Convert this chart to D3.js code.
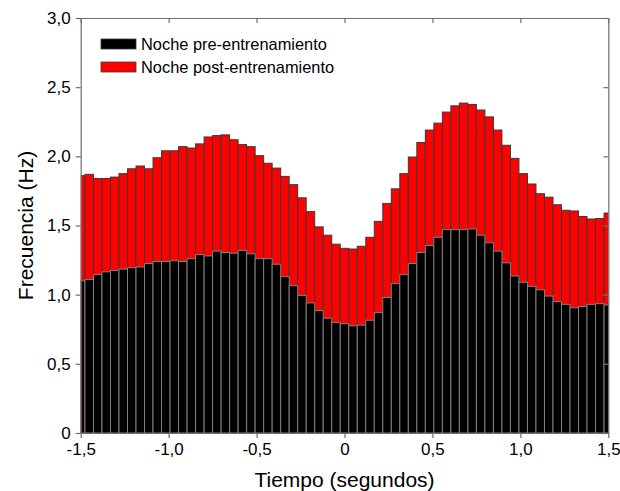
<!DOCTYPE html>
<html>
<head>
<meta charset="utf-8">
<script src="https://cdn.jsdelivr.net/npm/d3@7"></script>
<style>
  html, body { margin: 0; padding: 0; background: #fff; }
  svg { display: block; font-family: Arial, "Liberation Sans", Helvetica, sans-serif; }
</style>
</head>
<body>
<svg id="chart" width="620" height="491"></svg>
<script>
// Spike-rate histogram around the event (63 bins of 3/62 s, first and last half inside the axis)
const binWidth = 3 / 62;
const tiempos = d3.range(63).map(i => -1.5 + i * binWidth);

// Frequency (Hz) per bin
const preEntrenamiento = [
  1.10, 1.11, 1.145, 1.165, 1.175, 1.185, 1.195, 1.20, 1.225, 1.24,
  1.24, 1.245, 1.24, 1.26, 1.29, 1.28, 1.315, 1.305, 1.30, 1.32,
  1.295, 1.26, 1.26, 1.22, 1.13, 1.065, 0.995, 0.94, 0.885, 0.83,
  0.80, 0.79, 0.775, 0.78, 0.815, 0.87, 0.98, 1.08, 1.145, 1.225,
  1.305, 1.355, 1.415, 1.47, 1.47, 1.47, 1.475, 1.43, 1.375, 1.315,
  1.23, 1.135, 1.09, 1.06, 1.035, 0.99, 0.95, 0.93, 0.905, 0.915,
  0.93, 0.935, 0.925
];
const postEntrenamiento = [
  1.86, 1.87, 1.84, 1.84, 1.85, 1.875, 1.91, 1.93, 1.91, 1.99,
  2.04, 2.04, 2.07, 2.06, 2.09, 2.14, 2.15, 2.155, 2.12, 2.085,
  2.07, 2.005, 1.95, 1.915, 1.855, 1.795, 1.70, 1.60, 1.49, 1.43,
  1.365, 1.335, 1.33, 1.35, 1.415, 1.53, 1.66, 1.765, 1.875, 1.995,
  2.10, 2.19, 2.24, 2.32, 2.365, 2.385, 2.375, 2.335, 2.285, 2.19,
  2.08, 1.985, 1.875, 1.80, 1.73, 1.705, 1.65, 1.61, 1.605, 1.565,
  1.547, 1.55, 1.59
];

const xTicks = [-1.5, -1.0, -0.5, 0, 0.5, 1.0, 1.5];
const yTicks = [0, 0.5, 1.0, 1.5, 2.0, 2.5, 3.0];
const seriesNames = ["Noche pre-entrenamiento", "Noche post-entrenamiento"];
const xTitle = "Tiempo (segundos)";
const yTitle = "Frecuencia (Hz)";

const svg = d3.select("#chart");
const m = { left: 80.7, right: 608.3, top: 18, bottom: 433 };

const x = d3.scaleLinear().domain([-1.5, 1.5]).range([m.left, m.right]);
const y = d3.scaleLinear().domain([0, 3]).range([m.bottom, m.top]);
// decimal comma and a plain hyphen for negatives
const fmt = v => (v === 0 ? "0" : (v < 0 ? "-" : "") + Math.abs(v).toFixed(1).replace(".", ","));

svg.append("defs").append("clipPath").attr("id", "plot")
  .append("rect")
  .attr("x", m.left).attr("y", m.top)
  .attr("width", m.right - m.left).attr("height", m.bottom - m.top);

const bw = x(binWidth) - x(0);
const bars = svg.append("g").attr("clip-path", "url(#plot)");

// post-training bars behind, pre-training bars in front
bars.selectAll("rect.post").data(tiempos).join("rect")
  .attr("class", "post")
  .attr("x", (d) => x(d) - bw / 2)
  .attr("width", bw)
  .attr("y", (d, i) => y(postEntrenamiento[i]))
  .attr("height", (d, i) => y(0) - y(postEntrenamiento[i]))
  .attr("fill", "#ff0000")
  .attr("stroke", "#3a3a3a")
  .attr("stroke-width", 1);

bars.selectAll("rect.pre").data(tiempos).join("rect")
  .attr("class", "pre")
  .attr("x", (d) => x(d) - bw / 2)
  .attr("width", bw)
  .attr("y", (d, i) => y(preEntrenamiento[i]))
  .attr("height", (d, i) => y(0) - y(preEntrenamiento[i]))
  .attr("fill", "#000000")
  .attr("stroke", "#808080")
  .attr("stroke-width", 1);

// axes: outward ticks on bottom/left, inward mirrored ticks on top/right
const axisColor = "#6e6e6e";
function styleAxis(g, fontSize) {
  g.select(".domain").attr("stroke", axisColor).attr("stroke-width", 1.2);
  g.selectAll(".tick line").attr("stroke", axisColor).attr("stroke-width", 1.2);
  g.selectAll(".tick text").attr("fill", "#000").attr("font-size", fontSize)
    .attr("font-family", "Arial, 'Liberation Sans', sans-serif");
}

svg.append("g").attr("transform", `translate(0,${m.bottom})`)
  .call(d3.axisBottom(x).tickValues(xTicks).tickFormat(fmt).tickSize(5).tickSizeOuter(0).tickPadding(5))
  .call(g => styleAxis(g, 17));

svg.append("g").attr("transform", `translate(${m.left},0)`)
  .call(d3.axisLeft(y).tickValues(yTicks).tickFormat(fmt).tickSize(5).tickSizeOuter(0).tickPadding(5))
  .call(g => styleAxis(g, 17));

svg.append("g").attr("transform", `translate(0,${m.top})`)
  .call(d3.axisBottom(x).tickValues(xTicks).tickFormat("").tickSize(5).tickSizeOuter(0))
  .call(g => styleAxis(g, 17));

svg.append("g").attr("transform", `translate(${m.right},0)`)
  .call(d3.axisLeft(y).tickValues(yTicks).tickFormat("").tickSize(5).tickSizeOuter(0))
  .call(g => styleAxis(g, 17));

// axis titles
svg.append("text")
  .attr("x", (m.left + m.right) / 2).attr("y", 487)
  .attr("text-anchor", "middle").attr("font-size", 21)
  .text(xTitle);

svg.append("text")
  .attr("transform", `translate(33,${(m.top + m.bottom) / 2}) rotate(-90)`)
  .attr("text-anchor", "middle").attr("font-size", 21)
  .text(yTitle);

// legend
const legendColors = ["#000000", "#ff0000"];
const legend = svg.append("g");
seriesNames.forEach((name, i) => {
  const ly = 44 + i * 23;
  legend.append("rect")
    .attr("x", 101).attr("y", ly - 5).attr("width", 35).attr("height", 10)
    .attr("fill", legendColors[i]).attr("stroke", "#3a3a3a").attr("stroke-width", 0.8);
  legend.append("text")
    .attr("x", 141).attr("y", ly).attr("dy", "0.36em")
    .attr("font-size", 16.4)
    .text(name);
});
</script>
</body>
</html>
